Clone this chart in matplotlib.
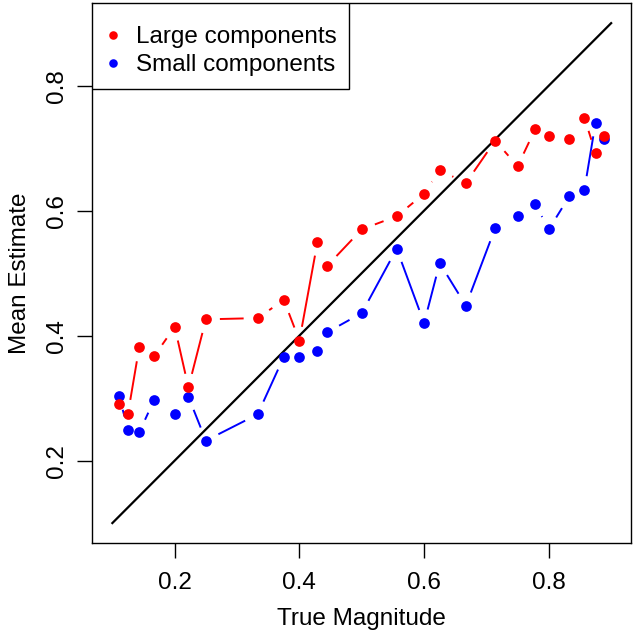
import numpy as np
import matplotlib
matplotlib.use("Agg")
import matplotlib.pyplot as plt
from matplotlib.patches import Rectangle

# true magnitude of each component
true_mag = [0.111, 0.125, 0.143, 0.167, 0.200, 0.222, 0.250, 0.333, 0.375,
            0.400, 0.429, 0.444, 0.500, 0.556, 0.600, 0.625, 0.667, 0.714,
            0.750, 0.778, 0.800, 0.833, 0.857, 0.875, 0.889]

# mean estimates
large_est = [0.290, 0.275, 0.381, 0.367, 0.414, 0.317, 0.426, 0.428, 0.457,
             0.392, 0.550, 0.511, 0.570, 0.591, 0.627, 0.665, 0.644, 0.712,
             0.671, 0.730, 0.720, 0.715, 0.749, 0.692, 0.720]
small_est = [0.303, 0.249, 0.245, 0.297, 0.274, 0.302, 0.232, 0.274, 0.366,
             0.366, 0.375, 0.405, 0.436, 0.539, 0.420, 0.516, 0.448, 0.572,
             0.591, 0.611, 0.570, 0.623, 0.633, 0.741, 0.715]

identity = [0.1, 0.9]

plt.rcParams['font.family'] = ['Liberation Sans', 'DejaVu Sans']
fs = 17.5

fig = plt.figure(figsize=(6.33, 6.30), dpi=100)
ax = fig.add_axes([0.146, 0.138, 0.851, 0.857])
ax.set_xlim(0.068, 0.932)
ax.set_ylim(0.068, 0.932)


def gapped_lines(ax, x, y, color, gap=14):
    # like R type="b": each segment stops short of the points
    pts = ax.transData.transform(np.column_stack([x, y]))
    inv = ax.transData.inverted()
    for p, q in zip(pts[:-1], pts[1:]):
        d = q - p
        n = np.hypot(d[0], d[1])
        if n <= 2 * gap:
            continue
        u = d / n
        seg = inv.transform(np.array([p + gap * u, q - gap * u]))
        ax.plot(seg[:, 0], seg[:, 1], color=color, lw=1.4,
                solid_capstyle='butt', zorder=2)


ax.plot(identity, identity, color='black', lw=1.6, zorder=1)

gapped_lines(ax, true_mag, small_est, 'blue')
gapped_lines(ax, true_mag, large_est, 'red')
ax.plot(true_mag, small_est, 'o', color='blue', ms=7.7, mec='none',
        label='Small components', zorder=3)
ax.plot(true_mag, large_est, 'o', color='red', ms=7.7, mec='none',
        label='Large components', zorder=4)

ax.set_xticks([0.2, 0.4, 0.6, 0.8])
ax.set_yticks([0.2, 0.4, 0.6, 0.8])
ax.set_xticklabels(['0.2', '0.4', '0.6', '0.8'])
ax.set_yticklabels(['0.2', '0.4', '0.6', '0.8'])
ax.tick_params(length=10.8, width=1, labelsize=fs, direction='out')
ax.tick_params(axis='x', pad=10)
ax.tick_params(axis='y', pad=7, labelrotation=90)
for lab in ax.get_yticklabels():
    lab.set_va('center')
for s in ax.spines.values():
    s.set_linewidth(1)

ax.set_xlabel('True Magnitude', fontsize=fs, labelpad=10)
ax.set_ylabel('Mean Estimate', fontsize=fs, labelpad=10.5)

# R-style legend box: frame drawn separately, entries sit a bit lower
ax.add_patch(Rectangle((0, 0.8407), 0.4763, 0.1593, transform=ax.transAxes,
                       facecolor='white', edgecolor='black', lw=1, zorder=5))
h, l = ax.get_legend_handles_labels()
leg = ax.legend(h[::-1], l[::-1], loc='upper left',
                bbox_to_anchor=(0, 0.9796), borderaxespad=0, fontsize=fs,
                frameon=False, handlelength=0.74, handletextpad=0.58,
                borderpad=0.49, labelspacing=0.25, markerscale=0.8)
leg.set_zorder(6)

fig.savefig('out.png', dpi=100)
